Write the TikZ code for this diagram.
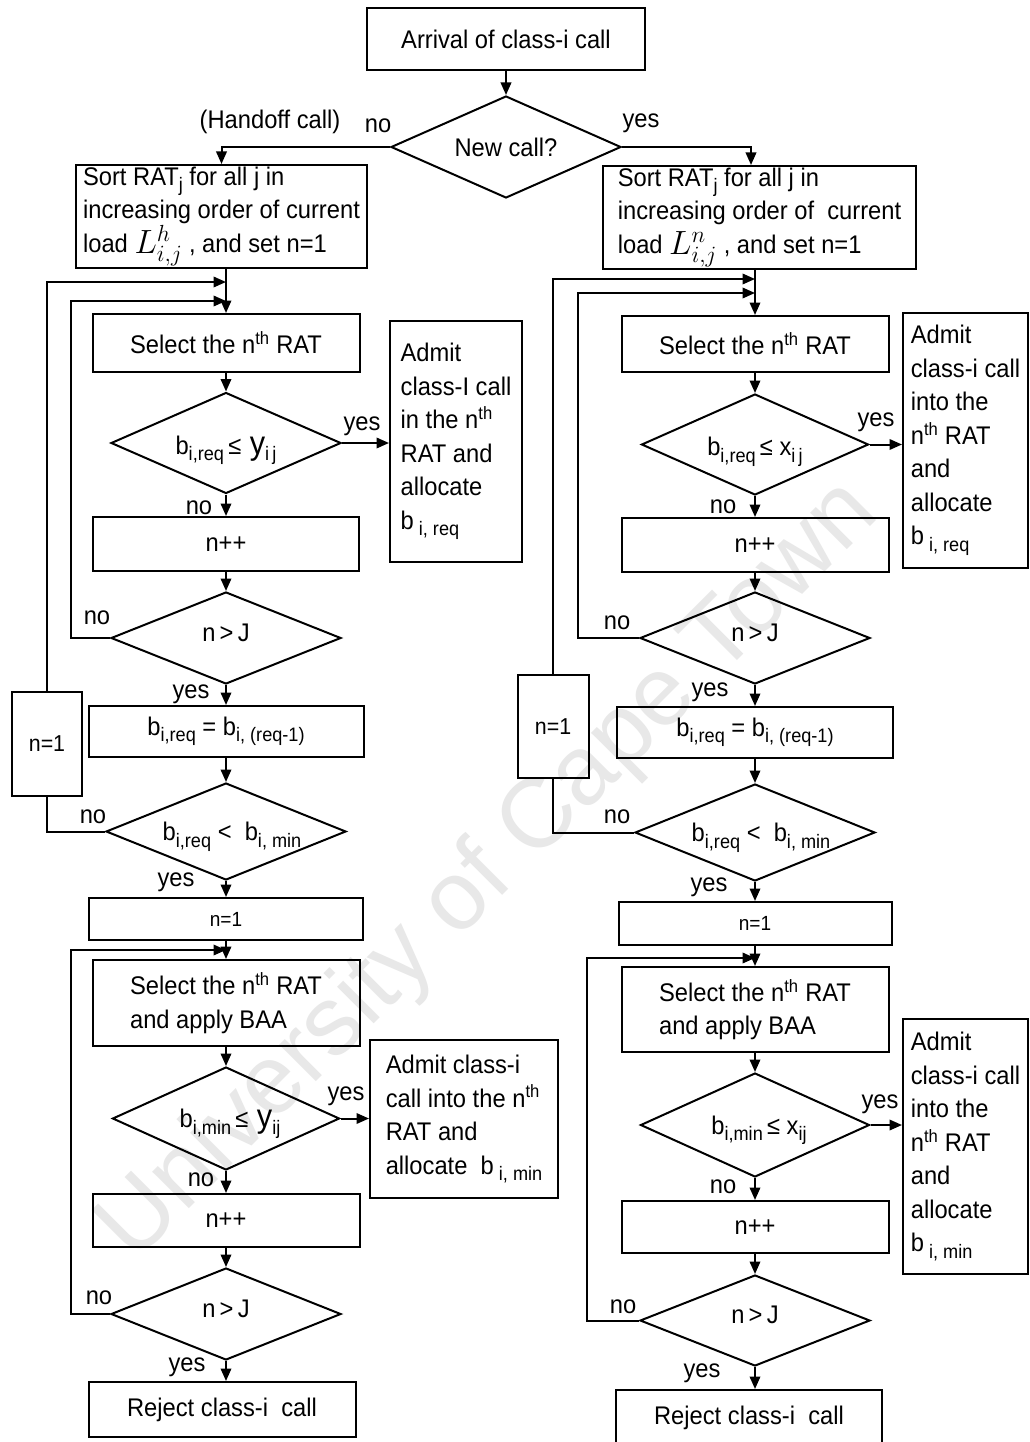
\documentclass[tikz,border=0pt]{standalone}
\usepackage{fontspec}
\usepackage{graphicx}
\setmainfont{Liberation Sans}[FakeStretch=0.93]
\newfontfamily\wmfont{Liberation Sans}
\usetikzlibrary{arrows.meta,shapes.geometric}
\newcommand\zw[2][9pt]{\smash{\raisebox{-#1}{\makebox[0pt]{#2}}}}
\newcommand\fsmain{\fontsize{25.5}{33.5}\selectfont}
\newcommand\fsmid{\fontsize{23}{28}\selectfont}
\newcommand\fssmall{\fontsize{20.5}{24}\selectfont}
\newcommand\supth{\textsuperscript{th}}
\newcommand\sub[1]{\raisebox{-6.5pt}{\fontsize{19.5}{19.5}\selectfont #1}}
\newcommand\bigy{{\fontsize{33}{33}\selectfont y}}
\newcommand\bigL[1]{\raisebox{-1pt}{\scalebox{1.35}{$L^{#1}_{i,j}$}}}
\begin{document}
\begin{tikzpicture}[x=1pt,y=-1pt,
  every node/.style={font=\fsmain, inner sep=0pt},
  box/.style={draw, line width=2pt, rectangle, align=center},
  lbox/.style={box, align=left},
  dia/.style={draw, line width=2pt, diamond},
  arr/.style={line width=2pt, -{Triangle[length=12.5pt,width=10.5pt]}},
  ln/.style={line width=2pt},
  lbl/.style={font=\fsmain},
  wm/.style={font=\wmfont\fontsize{98}{98}\selectfont, text=black!9, rotate=45}
]
\useasboundingbox (0,0) rectangle (1029,1442);
\clip (0,0) rectangle (1029,1442);
\fill[white] (0,0) rectangle (1029,1442);

\node[wm] (wmark) at (490,872) {University of Cape Town};

% top
\node[box, minimum width=278, minimum height=62] (arrival) at (506,39) {Arrival of class-i call};
\node[dia, minimum width=230, minimum height=102] (newc) at (506,147) {\zw[10pt]{New call?}};
\node[lbox, minimum width=291, minimum height=103] (sortL) at (221.5,216.5) {Sort RAT\sub{j} for all j in\\increasing order of current\\load \bigL{h} , and set n=1};
\node[lbox, minimum width=313, minimum height=103] (sortR) at (759.5,217.5) {Sort RAT\sub{j} for all j in\\increasing order of \ current\\load \bigL{n} , and set n=1};

% left column
\node[box, minimum width=267, minimum height=58] (selL) at (226,343) {Select the n\supth{} RAT};
\node[dia, minimum width=230, minimum height=101] (d1L) at (226,443) {\zw[11pt]{b\sub{i,req}\,≤\,\,\bigy\sub{i\,j}}};
\node[lbox, minimum width=132, minimum height=241] (adm1L) at (456,441.5) {Admit\\class-I call\\in the n\supth\\RAT and\\allocate\\b\sub{ i, req}};
\node[box, minimum width=266, minimum height=54] (nppL) at (226,544) {n++};
\node[dia, minimum width=230, minimum height=92] (d2L) at (226,638) {\zw[3pt]{n\,>\,J}};
\node[box, minimum width=275, minimum height=51] (eqL) at (226,731.5) {b\sub{i,req} = b\sub{i, (req-1)}};
\node[dia, minimum width=240, minimum height=97] (d3L) at (226,831.5) {\zw{\hspace*{12pt}b\sub{i,req} < \ b\sub{i, min}}};
\node[box, font=\fsmid, minimum width=70, minimum height=104] (n1L) at (47,744) {n=1};
\node[box, font=\fssmall, minimum width=274, minimum height=42] (n1wL) at (226,919) {n=1};
\node[lbox, minimum width=267, minimum height=86] (baaL) at (226,1003) {Select the n\supth{} RAT\\and apply BAA};
\node[dia, minimum width=227, minimum height=103] (d4L) at (226,1118.5) {\zw{\hspace*{8pt}b\sub{i,min}\,≤\,\,\bigy\sub{ij}}};
\node[lbox, minimum width=188, minimum height=158] (adm2L) at (464,1119) {Admit class-i\\call into the n\supth\\RAT and\\allocate \ b\sub{ i, min}};
\node[box, minimum width=267, minimum height=53] (npp2L) at (226,1220.5) {n++};
\node[dia, minimum width=230, minimum height=92] (d5L) at (226,1314) {\zw[3pt]{n\,>\,J}};
\node[box, minimum width=267, minimum height=55] (rejL) at (222,1409.5) {Reject class-i \ call};

% right column
\node[box, minimum width=267, minimum height=56] (selR) at (755,344) {Select the n\supth{} RAT};
\node[dia, minimum width=227, minimum height=101] (d1R) at (755,444.5) {\zw[11pt]{b\sub{i,req}\,≤\ x\sub{i\,j}}};
\node[lbox, minimum width=125, minimum height=255] (adm1R) at (965.5,440.5) {Admit\\class-i call\\into the\\n\supth{} RAT\\and\\allocate\\b\sub{ i, req}};
\node[box, minimum width=267, minimum height=54] (nppR) at (755,545) {n++};
\node[dia, minimum width=230, minimum height=92] (d2R) at (755,638) {\zw[3pt]{n\,>\,J}};
\node[box, minimum width=276, minimum height=51] (eqR) at (755,732.5) {b\sub{i,req} = b\sub{i, (req-1)}};
\node[dia, minimum width=240, minimum height=97] (d3R) at (755,832.5) {\zw{\hspace*{12pt}b\sub{i,req} < \ b\sub{i, min}}};
\node[box, font=\fsmid, minimum width=71, minimum height=103] (n1R) at (553,726.5) {n=1};
\node[box, font=\fssmall, minimum width=273, minimum height=43] (n1wR) at (755,923.5) {n=1};
\node[lbox, minimum width=267, minimum height=85] (baaR) at (755,1009.5) {Select the n\supth{} RAT\\and apply BAA};
\node[dia, minimum width=229, minimum height=104] (d4R) at (755,1125) {\zw{\hspace*{8pt}b\sub{i,min}\,≤\ x\sub{ij}}};
\node[lbox, minimum width=125, minimum height=255] (adm2R) at (965.5,1146.5) {Admit\\class-i call\\into the\\n\supth{} RAT\\and\\allocate\\b\sub{ i, min}};
\node[box, minimum width=267, minimum height=52] (npp2R) at (755,1227) {n++};
\node[dia, minimum width=230, minimum height=91] (d5R) at (755,1320.5) {\zw[3pt]{n\,>\,J}};
\node[box, minimum width=266, minimum height=56] (rejR) at (749,1418) {Reject class-i \ call};

% labels
\node[lbl] (lhand) at (270,122) {(Handoff call)};
\node[lbl] (lno0) at (378,126) {no};
\node[lbl] (lyes0) at (641,123) {yes};
\node[lbl] (ly1L) at (362,426) {yes};
\node[lbl] (ln1L) at (199,508) {no};
\node[lbl] (ln2L) at (97,618) {no};
\node[lbl] (ly2L) at (191,694) {yes};
\node[lbl] (ln3L) at (93,817) {no};
\node[lbl] (ly3L) at (176,882) {yes};
\node[lbl] (ly4L) at (346,1096) {yes};
\node[lbl] (ln4L) at (201,1180) {no};
\node[lbl] (ln5L) at (99,1298) {no};
\node[lbl] (ly5L) at (187,1367) {yes};
\node[lbl] (ly1R) at (876,422) {yes};
\node[lbl] (ln1R) at (723,507) {no};
\node[lbl] (ln2R) at (617,623) {no};
\node[lbl] (ly2R) at (710,692) {yes};
\node[lbl] (ln3R) at (617,817) {no};
\node[lbl] (ly3R) at (709,887) {yes};
\node[lbl] (ly4R) at (880,1104) {yes};
\node[lbl] (ln4R) at (723,1187) {no};
\node[lbl] (ln5R) at (623,1307) {no};
\node[lbl] (ly5R) at (702,1373) {yes};

% junction coordinates
\coordinate (jL1) at (226,282);
\coordinate (jL2) at (226,301);
\coordinate (cL2) at (71,301);
\coordinate (jL3) at (226,950);
\coordinate (cL3) at (71,950);
\coordinate (jR1) at (755,279);
\coordinate (jR2) at (755,293);
\coordinate (cR2) at (578,293);
\coordinate (jR3) at (755,958);
\coordinate (cR3) at (587,958);

% connectors top
\draw[arr] (arrival) -- (newc);
\draw[arr] (newc.west) -| (sortL.north);
\draw[arr] (newc.east) -| ([xshift=-8.5pt]sortR.north);

% left connectors
\draw[arr] (sortL.south -| selL.north) -- (selL.north);
\draw[arr] (n1L.north) |- (jL1);
\draw[arr] (d2L.west) -| (cL2) -- (jL2);
\draw[arr] (selL) -- (d1L);
\draw[arr] (d1L.east) -- (d1L.east -| adm1L.west);
\draw[arr] (d1L) -- (nppL);
\draw[arr] (nppL) -- (d2L);
\draw[arr] (d2L) -- (eqL);
\draw[arr] (eqL) -- (d3L);
\draw[ln] (d3L.west) -| (n1L.south);
\draw[arr] (d3L) -- (n1wL);
\draw[arr] (n1wL) -- (baaL);
\draw[arr] (d5L.west) -| (cL3) -- (jL3);
\draw[arr] (baaL) -- (d4L);
\draw[arr] (d4L.east) -- (d4L.east -| adm2L.west);
\draw[arr] (d4L) -- (npp2L);
\draw[arr] (npp2L) -- (d5L);
\draw[arr] (d5L.south) -- (d5L.south |- rejL.north);

% right connectors
\draw[arr] (sortR.south -| selR.north) -- (selR.north);
\draw[arr] (n1R.north) |- (jR1);
\draw[arr] (d2R.west) -| (cR2) -- (jR2);
\draw[arr] (selR) -- (d1R);
\draw[arr] (d1R.east) -- (d1R.east -| adm1R.west);
\draw[arr] (d1R) -- (nppR);
\draw[arr] (nppR) -- (d2R);
\draw[arr] (d2R) -- (eqR);
\draw[arr] (eqR) -- (d3R);
\draw[ln] (d3R.west) -| (n1R.south);
\draw[arr] (d3R) -- (n1wR);
\draw[arr] (n1wR) -- (baaR);
\draw[arr] (d5R.west) -| (cR3) -- (jR3);
\draw[arr] (baaR) -- (d4R);
\draw[arr] (d4R.east) -- (d4R.east -| adm2R.west);
\draw[arr] (d4R) -- (npp2R);
\draw[arr] (npp2R) -- (d5R);
\draw[arr] (d5R.south) -- (d5R.south |- rejR.north);
\end{tikzpicture}
\end{document}
